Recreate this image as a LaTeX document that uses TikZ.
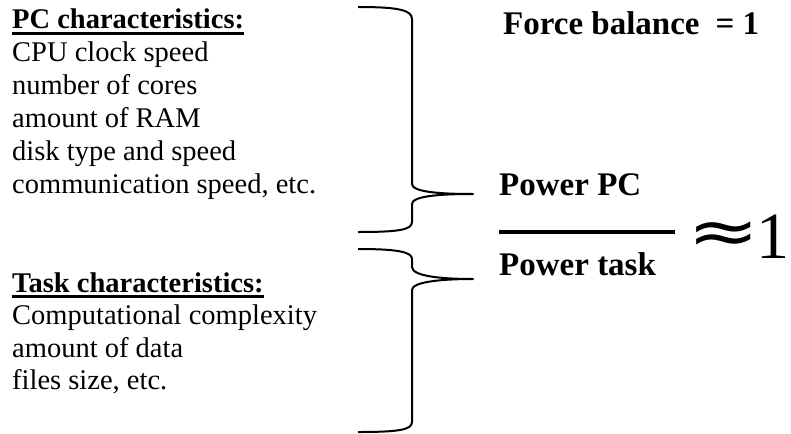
\documentclass[tikz,border=0pt]{standalone}
\usepackage{fontspec}
\setmainfont{Liberation Serif}
\newfontfamily\symfont{DejaVu Sans}
\usepackage{tikz}
\tikzset{
  every item/.style={
    anchor=base west,
    inner sep=0pt,
    font=\fontsize{28.5}{34}\selectfont
  },
  every head/.style={
    every item,
    font=\fontsize{28.5}{34}\selectfont\bfseries
  },
  every big/.style={
    every item,
    font=\fontsize{33}{36}\selectfont\bfseries
  },
  every brace/.style={
    line width=2pt,
    line join=round
  }
}

\begin{document}
\begin{tikzpicture}[x=1pt, y=-1pt]
  \useasboundingbox (0,0) rectangle (791,433);
  % PC block
  \node [every head] (hPC) at (12,29) {PC characteristics:};
  \node [every item] (P1) at (12,62) {CPU clock speed};
  \node [every item] (P2) at (12,95) {number of cores};
  \node [every item] (P3) at (12,128) {amount of RAM};
  \node [every item] (P4) at (12,160) {disk type and speed};
  \node [every item] (P5) at (12,193) {communication speed, etc.};

  % Task block
  \node [every head] (hTask) at (12,292) {Task characteristics:};
  \node [every item] (T1) at (12,324) {Computational complexity};
  \node [every item] (T2) at (12,357) {amount of data};
  \node [every item] (T3) at (12,389) {files size, etc.};

  % Underlines
  \draw[line width=2.5pt] ([yshift=-4.5pt]hPC.base west) -- ([yshift=-4.5pt]hPC.base east);
  \draw[line width=2.5pt] ([yshift=-4.5pt]hTask.base west) -- ([yshift=-4.5pt]hTask.base east);

  % Braces
  \draw[every brace] (358,7) .. controls (398,7) and (412,10) .. (412,19)
    -- (412,184) .. controls (412,192) and (440,194) .. (473,194)
    .. controls (440,194) and (412,196) .. (412,204)
    -- (412,222) .. controls (412,230) and (398,232) .. (358,232);
  \draw[every brace] (358,249) .. controls (398,249) and (412,252) .. (412,259)
    -- (412,267) .. controls (412,276) and (440,279) .. (473,279)
    .. controls (440,279) and (412,282) .. (412,290)
    -- (412,422) .. controls (412,430) and (398,432) .. (358,432);

  % Right side
  \node [every big] (FB) at (503,35) {Force balance\hspace{16pt}= 1};
  \node [every big] (PPC) at (499,195) {Power PC};
  \node [every big] (PT) at (499,275) {Power task};
  \draw[line width=3.5pt] (499,232) -- (675,232);
  \node [inner sep=0pt, xscale=1.35, font=\fontsize{64}{70}\symfont] (AP) at (724,238) {≈};
  \node [every item, font=\fontsize{66}{70}\selectfont] (A1) at (756,258) {1};
\end{tikzpicture}
\end{document}
